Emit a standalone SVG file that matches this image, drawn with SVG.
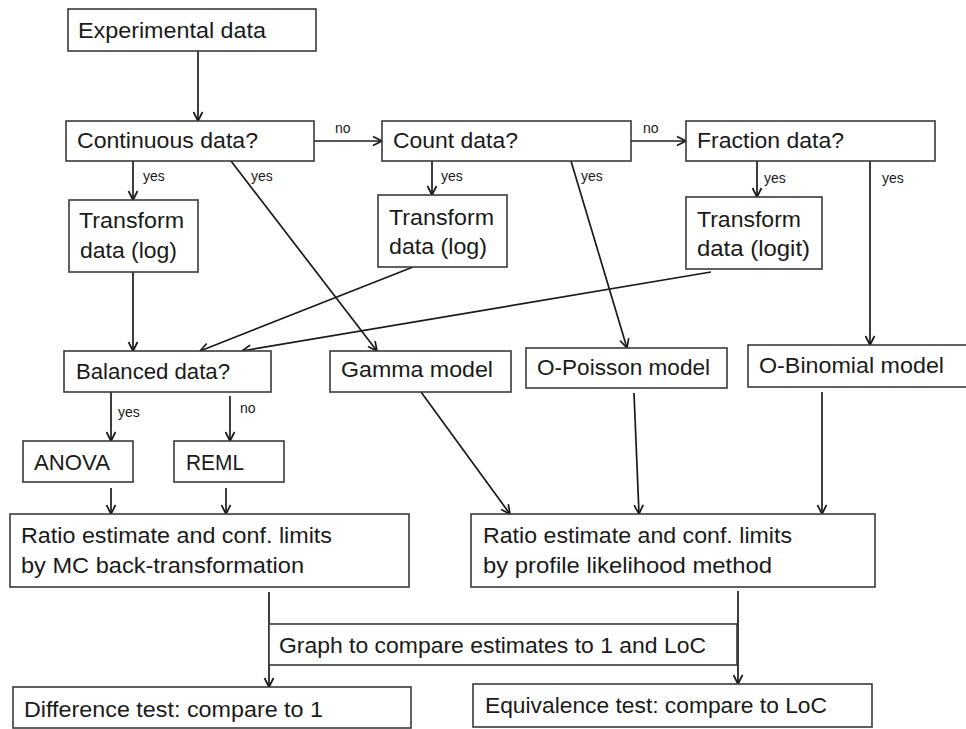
<svg xmlns="http://www.w3.org/2000/svg" width="966" height="729" viewBox="0 0 966 729">
  <style>
    .box { fill: #ffffff; stroke: #3a3a3a; stroke-width: 1.6; }
    .lbl { font-family: "Liberation Sans", Arial, sans-serif; font-size: 22px; fill: #1a1a1a; }
    .tag { font-family: "Liberation Sans", Arial, sans-serif; font-size: 14px; fill: #1a1a1a; }
    .edge { fill: none; stroke: #1a1a1a; stroke-width: 1.7; marker-end: url(#arrow); }
  </style>
  <defs>
    <marker id="arrow" markerUnits="userSpaceOnUse" markerWidth="12" markerHeight="12" viewBox="0 0 12 12" refX="10" refY="6" orient="auto">
      <path d="M1,1.5 L10,6 L1,10.5" fill="none" stroke="#1a1a1a" stroke-width="1.7"/>
    </marker>
  </defs>
  <rect width="966" height="729" fill="#ffffff"/>

  <!-- connectors and their branch labels -->
  <g id="connectors">
    <path class="edge" d="M198,51 V121"/>
    <path class="edge" d="M314,141 H382"/>
    <path class="edge" d="M631,141 H686"/>
    <path class="edge" d="M133,161 V200"/>
    <path class="edge" d="M231,161 L377,351"/>
    <path class="edge" d="M432,161 V195"/>
    <path class="edge" d="M571,161 L627,348"/>
    <path class="edge" d="M757,161 V197"/>
    <path class="edge" d="M870,161 V345"/>
    <path class="edge" d="M133,272 V351"/>
    <path class="edge" d="M413,267 L200,351"/>
    <path class="edge" d="M711,272 L242,351"/>
    <path class="edge" d="M111,392 V441"/>
    <path class="edge" d="M230,396 V441"/>
    <path class="edge" d="M111,488 V514"/>
    <path class="edge" d="M226,488 V514"/>
    <path class="edge" d="M421,392 L510,514"/>
    <path class="edge" d="M634,393 L639,514"/>
    <path class="edge" d="M822,392 V514"/>
    <path class="edge" d="M269,592 V687"/>
    <path class="edge" d="M738,591 V684"/>
    <text class="tag" x="335" y="133">no</text>
    <text class="tag" x="643" y="133">no</text>
    <text class="tag" x="143" y="181">yes</text>
    <text class="tag" x="251" y="181">yes</text>
    <text class="tag" x="441" y="181">yes</text>
    <text class="tag" x="581" y="181">yes</text>
    <text class="tag" x="764" y="183">yes</text>
    <text class="tag" x="882" y="183">yes</text>
    <text class="tag" x="118" y="417">yes</text>
    <text class="tag" x="240" y="413">no</text>
  </g>

  <g id="experimental">
    <rect class="box" x="68" y="9" width="248" height="42"/>
    <text class="lbl" x="78" y="38" textLength="188" lengthAdjust="spacingAndGlyphs">Experimental data</text>
  </g>
  <g id="continuous">
    <rect class="box" x="66" y="121" width="248" height="40"/>
    <text class="lbl" x="77" y="148" textLength="181" lengthAdjust="spacingAndGlyphs">Continuous data?</text>
  </g>
  <g id="count">
    <rect class="box" x="382" y="121" width="249" height="40"/>
    <text class="lbl" x="393" y="148" textLength="125" lengthAdjust="spacingAndGlyphs">Count data?</text>
  </g>
  <g id="fraction">
    <rect class="box" x="686" y="121" width="249" height="40"/>
    <text class="lbl" x="697" y="148" textLength="147" lengthAdjust="spacingAndGlyphs">Fraction data?</text>
  </g>
  <g id="transform-log-1">
    <rect class="box" x="69" y="200" width="129" height="72"/>
    <text class="lbl" x="79" y="228" textLength="105" lengthAdjust="spacingAndGlyphs">Transform</text>
    <text class="lbl" x="80" y="258" textLength="97" lengthAdjust="spacingAndGlyphs">data (log)</text>
  </g>
  <g id="transform-log-2">
    <rect class="box" x="378" y="195" width="129" height="72"/>
    <text class="lbl" x="389" y="225" textLength="105" lengthAdjust="spacingAndGlyphs">Transform</text>
    <text class="lbl" x="389" y="254" textLength="98" lengthAdjust="spacingAndGlyphs">data (log)</text>
  </g>
  <g id="transform-logit">
    <rect class="box" x="686" y="197" width="136" height="72"/>
    <text class="lbl" x="697" y="227" textLength="104" lengthAdjust="spacingAndGlyphs">Transform</text>
    <text class="lbl" x="697" y="256" textLength="113" lengthAdjust="spacingAndGlyphs">data (logit)</text>
  </g>
  <g id="balanced">
    <rect class="box" x="64" y="351" width="207" height="41"/>
    <text class="lbl" x="76" y="379" textLength="154" lengthAdjust="spacingAndGlyphs">Balanced data?</text>
  </g>
  <g id="gamma">
    <rect class="box" x="330" y="351" width="181" height="41"/>
    <text class="lbl" x="341" y="377" textLength="152" lengthAdjust="spacingAndGlyphs">Gamma model</text>
  </g>
  <g id="o-poisson">
    <rect class="box" x="526" y="348" width="201" height="40"/>
    <text class="lbl" x="537" y="375" textLength="173" lengthAdjust="spacingAndGlyphs">O-Poisson model</text>
  </g>
  <g id="o-binomial">
    <rect class="box" x="748" y="345" width="230" height="42"/>
    <text class="lbl" x="759" y="373" textLength="185" lengthAdjust="spacingAndGlyphs">O-Binomial model</text>
  </g>
  <g id="anova">
    <rect class="box" x="23" y="441" width="110" height="41"/>
    <text class="lbl" x="34" y="470" textLength="76" lengthAdjust="spacingAndGlyphs">ANOVA</text>
  </g>
  <g id="reml">
    <rect class="box" x="174" y="441" width="110" height="41"/>
    <text class="lbl" x="186" y="470" textLength="58" lengthAdjust="spacingAndGlyphs">REML</text>
  </g>
  <g id="ratio-mc">
    <rect class="box" x="10" y="514" width="399" height="73"/>
    <text class="lbl" x="21" y="543" textLength="311" lengthAdjust="spacingAndGlyphs">Ratio estimate and conf. limits</text>
    <text class="lbl" x="21" y="573" textLength="283" lengthAdjust="spacingAndGlyphs">by MC back-transformation</text>
  </g>
  <g id="ratio-profile">
    <rect class="box" x="471" y="514" width="404" height="73"/>
    <text class="lbl" x="483" y="543" textLength="309" lengthAdjust="spacingAndGlyphs">Ratio estimate and conf. limits</text>
    <text class="lbl" x="483" y="573" textLength="289" lengthAdjust="spacingAndGlyphs">by profile likelihood method</text>
  </g>
  <g id="graph">
    <rect class="box" x="269" y="624" width="468" height="41"/>
    <text class="lbl" x="279" y="653" textLength="427" lengthAdjust="spacingAndGlyphs">Graph to compare estimates to 1 and LoC</text>
  </g>
  <g id="difference">
    <rect class="box" x="13" y="687" width="398" height="41"/>
    <text class="lbl" x="24" y="717" textLength="299" lengthAdjust="spacingAndGlyphs">Difference test: compare to 1</text>
  </g>
  <g id="equivalence">
    <rect class="box" x="473" y="684" width="399" height="43"/>
    <text class="lbl" x="485" y="713" textLength="342" lengthAdjust="spacingAndGlyphs">Equivalence test: compare to LoC</text>
  </g>
</svg>
